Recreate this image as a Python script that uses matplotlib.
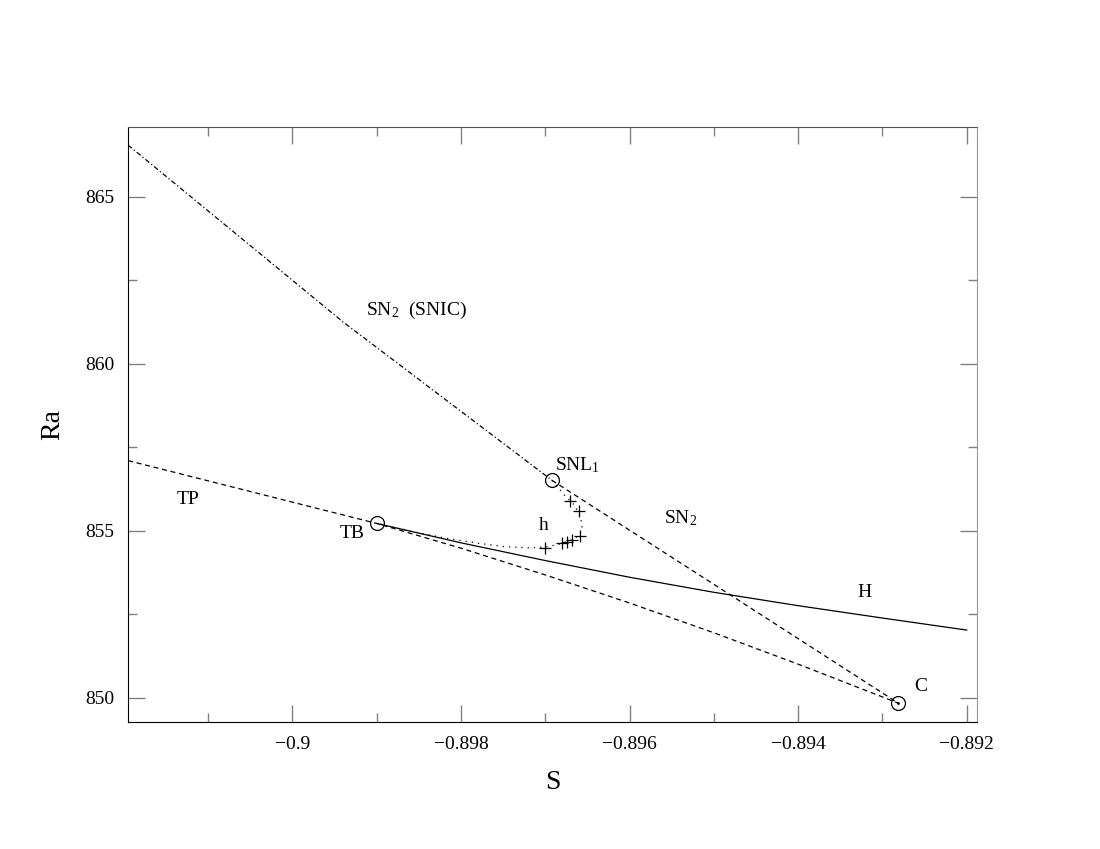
import numpy as np
import matplotlib
matplotlib.use('Agg')
import matplotlib.pyplot as plt
from matplotlib.ticker import MultipleLocator, FuncFormatter

plt.rcParams['font.family'] = ['Liberation Serif', 'DejaVu Serif']
plt.rcParams['mathtext.fontset'] = 'custom'
plt.rcParams['mathtext.rm'] = 'Liberation Serif'
plt.rcParams['mathtext.it'] = 'Liberation Serif:italic'

### Curve data (S, Ra)
# SN2 (SNIC) branch, dash-dot, from left edge down to SNL1
snic_s = [-0.90195, -0.8994, -0.89692]
snic_ra = [866.54, 861.25, 856.51]

# SN2 branch, dashed, from SNL1 to C
sn2_s = [-0.89692, -0.89476, -0.89281]
sn2_ra = [856.51, 853.01, 849.84]

# TP branch, dashed, left edge to TB then on to C
tp_s = [-0.90195, -0.899, -0.898, -0.897, -0.896, -0.895, -0.894, -0.893, -0.89281]
tp_ra = [857.10, 855.22, 854.48, 853.68, 852.84, 851.95, 851.01, 850.03, 849.84]

# Hopf branch H, solid
h_s = [-0.899, -0.898, -0.897, -0.896, -0.895, -0.894, -0.893, -0.892]
h_ra = [855.22, 854.64, 854.11, 853.61, 853.16, 852.76, 852.39, 852.03]

# homoclinic branch h, dotted (SNL1 -> TB)
hom_s = [-0.89692, -0.89677, -0.89665, -0.89659, -0.89656, -0.89659, -0.89671,
         -0.89682, -0.89700, -0.8972, -0.8975, -0.8978, -0.8982, -0.8986, -0.89900]
hom_ra = [856.51, 856.06, 855.76, 855.46, 855.16, 854.87, 854.70,
          854.61, 854.51, 854.49, 854.53, 854.63, 854.79, 854.99, 855.22]

# computed homoclinic points (crosses)
cross_s = [-0.89700, -0.89680, -0.89674, -0.89668, -0.89659, -0.89660, -0.89671]
cross_ra = [854.50, 854.63, 854.67, 854.73, 854.85, 855.59, 855.89]

# codim-2 points: TB, SNL1, C
pt_s = [-0.89900, -0.89692, -0.89281]
pt_ra = [855.22, 856.51, 849.84]

fig = plt.figure(figsize=(11, 8.49), dpi=100)
ax = fig.add_axes([0.1164, 0.1496, 0.7716, 0.7012])

ax.plot(snic_s, snic_ra, color='black', lw=0.9, linestyle=(0, (4, 2, 1, 2)))
ax.plot(sn2_s, sn2_ra, color='black', lw=0.9, linestyle=(0, (4, 3)))
ax.plot(tp_s, tp_ra, color='black', lw=0.9, linestyle=(0, (4, 3)))
ax.plot(h_s, h_ra, color='black', lw=0.9)
ax.plot(hom_s, hom_ra, color='black', lw=0.9, linestyle=(0, (1, 4)))
ax.plot(cross_s, cross_ra, '+', color='black', ms=8, mew=0.9)
ax.plot(pt_s, pt_ra, 'o', mfc='none', mec='black', ms=10, mew=0.9)
ax.plot(pt_s[2], pt_ra[2], '.', color='black', ms=2)

kw = dict(fontsize=14, color='black')
ax.text(-0.89913, 861.45, r'SN$_2$  (SNIC)', va='baseline', ha='left', **kw)
ax.text(-0.89688, 856.81, r'SNL$_1$', va='baseline', ha='left', **kw)
ax.text(-0.89702, 855.16, 'h', va='center', ha='center', **kw)
ax.text(-0.89929, 854.93, 'TB', va='center', ha='center', **kw)
ax.text(-0.89255, 850.34, 'C', va='center', ha='center', **kw)
ax.text(-0.8954, 855.37, r'SN$_2$', va='center', ha='center', **kw)
ax.text(-0.90124, 855.94, 'TP', va='center', ha='center', **kw)
ax.text(-0.89321, 853.16, 'H', va='center', ha='center', **kw)

ax.set_xlim(-0.90195, -0.89188)
ax.set_ylim(849.28, 867.09)

ax.xaxis.set_major_locator(MultipleLocator(0.002))
ax.xaxis.set_minor_locator(MultipleLocator(0.001))
ax.yaxis.set_major_locator(MultipleLocator(5))
ax.yaxis.set_minor_locator(MultipleLocator(2.5))
ax.xaxis.set_major_formatter(FuncFormatter(lambda v, p: ('%g' % round(v, 4)).replace('-', '\u2212')))
ax.yaxis.set_major_formatter(FuncFormatter(lambda v, p: '%g' % v))

ax.tick_params(which='both', direction='in', top=True, right=True, color='gray', width=1,
               labelsize=14, pad=10)
ax.tick_params(which='major', length=12.5)
ax.tick_params(which='minor', length=6.5)

for side in ['left', 'bottom']:
    ax.spines[side].set_color('black')
ax.spines['top'].set_color('#555555')
ax.spines['right'].set_color('#999999')

ax.set_xlabel('S', fontsize=20, labelpad=12)
ax.set_ylabel('Ra', fontsize=20, labelpad=14)

fig.savefig('out.png', dpi=100)
